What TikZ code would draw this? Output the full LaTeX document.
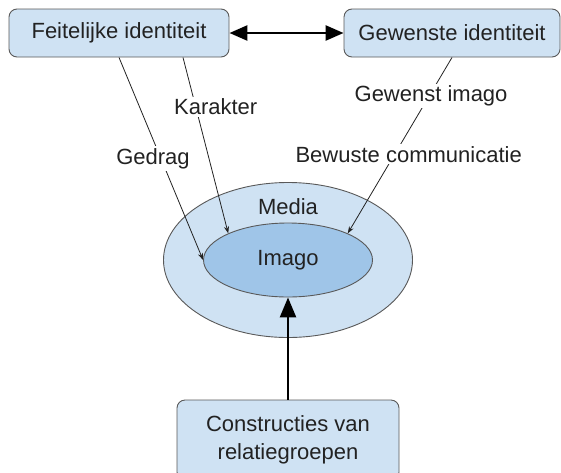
\documentclass[tikz,border=0pt]{standalone}
\usepackage{fontspec}
\setmainfont{Liberation Sans}
\usetikzlibrary{arrows.meta,shapes.geometric}
\definecolor{lichtblauw}{HTML}{CFE2F3}
\definecolor{blauw}{HTML}{9FC5E8}
\definecolor{rand}{HTML}{595959}
\definecolor{tekst}{HTML}{222222}

\begin{document}
\begin{tikzpicture}[x=1pt, y=-1pt,
    vak/.style={draw=rand, fill=lichtblauw, rounded corners=8pt, line width=0.9pt,
        text=tekst, font=\fontsize{22}{28}\selectfont, inner sep=0pt, align=center},
    ovaal/.style={ellipse, draw=rand, line width=0.9pt, inner sep=0pt,
        text=tekst, font=\fontsize{22}{26}\selectfont},
    lijn/.style={draw=tekst, line width=0.8pt, -{Stealth[length=7pt,width=5pt]}},
    dik/.style={draw=black, line width=2.6pt, {Triangle[length=18pt,width=15pt]}-{Triangle[length=18pt,width=15pt]}},
    etiket/.style={fill=white, inner sep=2pt, text=tekst, font=\fontsize{22}{26}\selectfont}
]
\useasboundingbox (0,0) rectangle (561,472);

% Vakken
\node[vak, minimum width=220pt, minimum height=48pt] (feit) at (119,33) {Feitelijke identiteit};
\node[vak, minimum width=216pt, minimum height=48pt] (gewenst) at (452,33) {Gewenste identiteit};
\node[vak, minimum width=222pt, minimum height=80pt] (constr) at (288,440) {Constructies van\\relatiegroepen};

% Ellipsen
\node[ovaal, fill=lichtblauw, minimum width=249pt, minimum height=155pt] (media) at (288,260) {};
\node[ovaal, fill=blauw, minimum width=169pt, minimum height=74pt] (imago) at (288,260) {Imago};
\node[text=tekst, font=\fontsize{22}{26}\selectfont] (mediatekst) at ([yshift=53pt]media.center) {Media};

% Pijlen
\draw[dik] (feit.east) -- (gewenst.west);
\draw[line width=2.6pt, -{Triangle[length=20pt,width=16pt]}] (constr.north) -- (imago.south);

\draw[lijn] (feit.south) -- node[etiket, pos=0.5, xshift=-8pt] {Gedrag} (imago.west);
\draw[lijn] ([xshift=64pt]feit.south) -- node[etiket, pos=0.28, xshift=20pt] {Karakter} (imago.156);
\draw[lijn] (gewenst.south)
    -- node[etiket, pos=0.22, xshift=2pt] {Gewenst imago}
       node[etiket, pos=0.55, xshift=14pt] {Bewuste communicatie} (imago.24);

\end{tikzpicture}
\end{document}
